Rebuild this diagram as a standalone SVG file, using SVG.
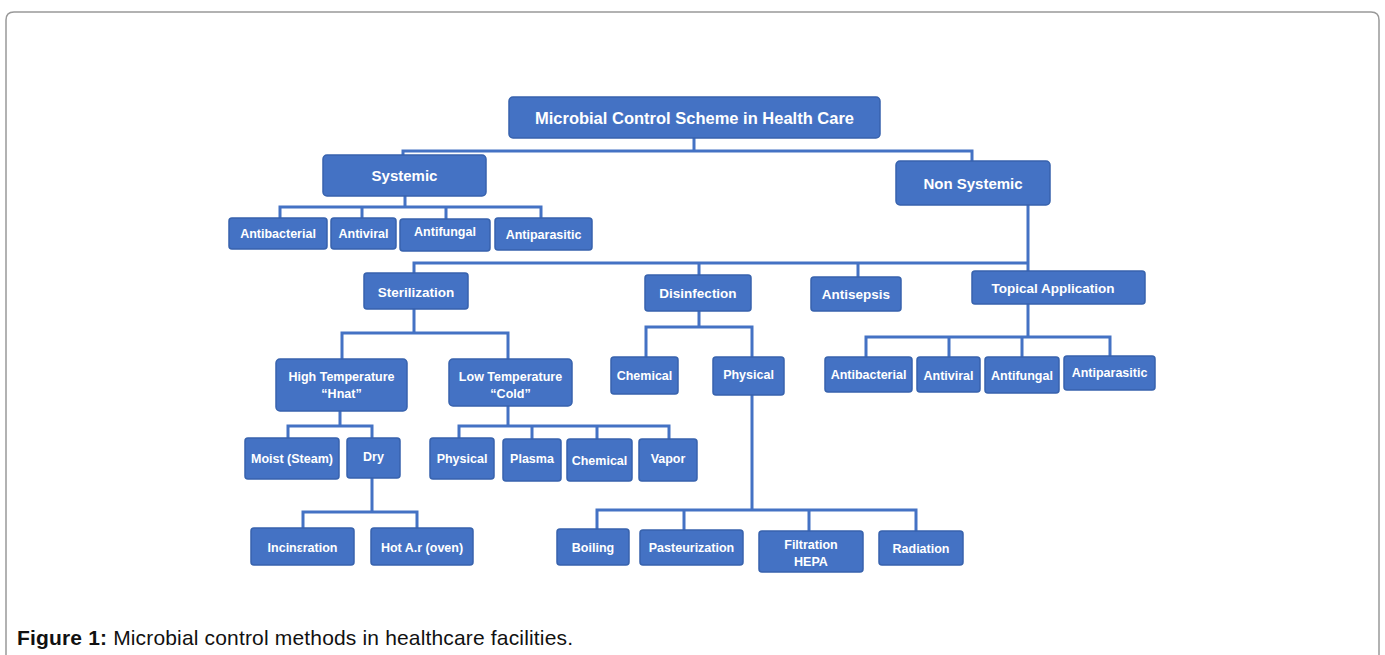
<svg xmlns="http://www.w3.org/2000/svg" width="1385" height="655" viewBox="0 0 1385 655">
<style>
.bx{fill:#4472c4;stroke:#3762ad;stroke-width:1.5}
.t{fill:#ffffff;font-family:"Liberation Sans",Arial,sans-serif;font-weight:bold;text-anchor:middle}
.s{font-size:12.5px}
.m{font-size:13.5px}
.l{font-size:15px}
.cn{fill:none;stroke:#4472c4;stroke-width:3}
.cap{font-family:"Liberation Sans",Arial,sans-serif;font-size:21px;fill:#111111}
</style>
<rect width="1385" height="655" fill="#ffffff"/>
<path d="M6,655 V20 Q6,12 14,12 H1371 Q1379,12 1379,20 V655" fill="none" stroke="#999999" stroke-width="1.5"/>
<g id="connectors" class="cn">
<path d="M694,138 V151 M403,155 V151 H972 V161"/>
<path d="M405,196 V207 M280,218 V207 H541 V218 M362,207 V218 M446,207 V219"/>
<path d="M1028,205 V271 M414,273 V263 H1028 M699,263 V275 M858,263 V277"/>
<path d="M414,309 V333 M342,359 V333 H508 V359"/>
<path d="M340,411 V426 M288,438 V426 H372 V438"/>
<path d="M372,478 V512 M303,528 V512 H417 V528"/>
<path d="M508,406 V426 M459,438 V426 H669 V439 M532,426 V439 M597,426 V439"/>
<path d="M699,311 V327 M646,357 V327 H752 V357"/>
<path d="M752,395 V510 M597,529 V510 H916 V531 M684,510 V530 M809,510 V531"/>
<path d="M1028,304 V337 M866,357 V337 H1110 V356 M949,337 V357 M1022,337 V357"/>
</g>
<g id="root"><rect class="bx" x="509" y="97" width="371" height="41" rx="4"/><text class="t" x="694.5" y="123.5" font-size="16.5">Microbial Control Scheme in Health Care</text></g>
<g id="systemic"><rect class="bx" x="323" y="155" width="163" height="41" rx="4"/><text class="t l" x="404.5" y="181">Systemic</text></g>
<g id="nonsystemic"><rect class="bx" x="896" y="161" width="154" height="44" rx="4"/><text class="t l" x="973" y="189">Non Systemic</text></g>
<g id="s_antibacterial"><rect class="bx" x="229" y="218" width="98" height="31" rx="3"/><text class="t s" x="278" y="238">Antibacterial</text></g>
<g id="s_antiviral"><rect class="bx" x="331" y="218" width="65" height="31" rx="3"/><text class="t s" x="363.5" y="238">Antiviral</text></g>
<g id="s_antifungal"><rect class="bx" x="400" y="219" width="90" height="32" rx="3"/><text class="t s" x="445" y="236">Antifungal</text></g>
<g id="s_antiparasitic"><rect class="bx" x="495" y="218" width="97" height="32" rx="3"/><text class="t s" x="543.5" y="239">Antiparasitic</text></g>
<g id="sterilization"><rect class="bx" x="364" y="273" width="104" height="36" rx="3"/><text class="t m" x="416" y="297">Sterilization</text></g>
<g id="disinfection"><rect class="bx" x="645" y="275" width="106" height="36" rx="3"/><text class="t m" x="698" y="298">Disinfection</text></g>
<g id="antisepsis"><rect class="bx" x="811" y="277" width="90" height="34" rx="3"/><text class="t m" x="856" y="299">Antisepsis</text></g>
<g id="topical"><rect class="bx" x="972" y="271" width="173" height="33" rx="3"/><text class="t m" x="1053" y="293">Topical Application</text></g>
<g id="hightemp"><rect class="bx" x="276" y="359" width="131" height="52" rx="4"/><text class="t s" x="341.5" y="381">High Temperature</text><text class="t s" x="341.5" y="398">“Hnat”</text></g>
<g id="lowtemp"><rect class="bx" x="449" y="359" width="123" height="47" rx="4"/><text class="t s" x="510.5" y="381">Low Temperature</text><text class="t s" x="510.5" y="398">“Cold”</text></g>
<g id="d_chemical"><rect class="bx" x="611" y="357" width="67" height="37" rx="3"/><text class="t s" x="644.5" y="380">Chemical</text></g>
<g id="d_physical"><rect class="bx" x="713" y="357" width="71" height="38" rx="3"/><text class="t s" x="748.5" y="379">Physical</text></g>
<g id="t_antibacterial"><rect class="bx" x="825" y="357" width="87" height="35" rx="3"/><text class="t s" x="868.5" y="379">Antibacterial</text></g>
<g id="t_antiviral"><rect class="bx" x="917" y="357" width="63" height="35" rx="3"/><text class="t s" x="948.5" y="380">Antiviral</text></g>
<g id="t_antifungal"><rect class="bx" x="985" y="357" width="74" height="36" rx="3"/><text class="t s" x="1022" y="380">Antifungal</text></g>
<g id="t_antiparasitic"><rect class="bx" x="1064" y="356" width="91" height="34" rx="3"/><text class="t s" x="1109.5" y="377">Antiparasitic</text></g>
<g id="moist"><rect class="bx" x="245" y="438" width="94" height="41" rx="3"/><text class="t s" x="292" y="463">Moist (Steam)</text></g>
<g id="dry"><rect class="bx" x="347" y="438" width="53" height="40" rx="3"/><text class="t s" x="373.5" y="461">Dry</text></g>
<g id="l_physical"><rect class="bx" x="430" y="438" width="64" height="41" rx="3"/><text class="t s" x="462" y="463">Physical</text></g>
<g id="plasma"><rect class="bx" x="503" y="439" width="58" height="42" rx="3"/><text class="t s" x="532" y="463">Plasma</text></g>
<g id="l_chemical"><rect class="bx" x="567" y="439" width="65" height="42" rx="3"/><text class="t s" x="599.5" y="465">Chemical</text></g>
<g id="vapor"><rect class="bx" x="639" y="439" width="58" height="42" rx="3"/><text class="t s" x="668" y="463">Vapor</text></g>
<g id="incineration"><rect class="bx" x="251" y="528" width="103" height="37" rx="3"/><text class="t s" x="302.5" y="552">Incinεration</text></g>
<g id="hotair"><rect class="bx" x="371" y="528" width="102" height="37" rx="3"/><text class="t s" x="422" y="552">Hot A.r (oven)</text></g>
<g id="boiling"><rect class="bx" x="557" y="529" width="72" height="36" rx="3"/><text class="t s" x="593" y="552">Boiling</text></g>
<g id="pasteurization"><rect class="bx" x="640" y="530" width="103" height="35" rx="3"/><text class="t s" x="691.5" y="552">Pasteurization</text></g>
<g id="filtration"><rect class="bx" x="759" y="531" width="104" height="41" rx="3"/><text class="t s" x="811" y="549">Filtration</text><text class="t s" x="811" y="566">HEPA</text></g>
<g id="radiation"><rect class="bx" x="879" y="531" width="84" height="34" rx="3"/><text class="t s" x="921" y="553">Radiation</text></g>
<text class="cap" x="17" y="645" textLength="556" lengthAdjust="spacing"><tspan font-weight="bold">Figure 1:</tspan> Microbial control methods in healthcare facilities.</text>
</svg>
